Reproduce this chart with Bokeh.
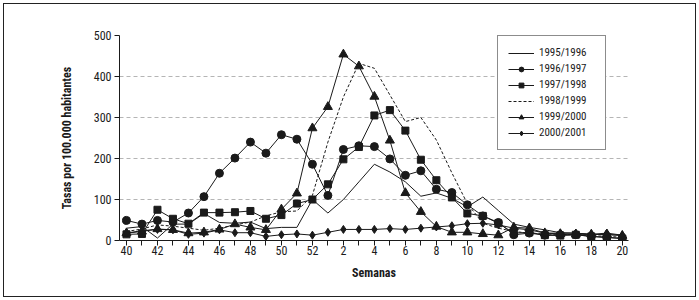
from bokeh.plotting import figure
from bokeh.models import Range1d, FixedTicker, Legend, LegendItem
from bokeh.embed import file_html
from bokeh.resources import INLINE

weeks = [40, 41, 42, 43, 44, 45, 46, 47, 48, 49, 50, 51, 52,
         1, 2, 3, 4, 5, 6, 7, 8, 9, 10, 11, 12, 13, 14, 15, 16, 17, 18, 19, 20]

s9596 = [30, 34, 6, 40, 40, 66, 44, 42, 45, 29, 32, 32, 100, 67, 100, 143, 186, 167, 143, 108,
         116, 103, 82, 106, 73, 40, 32, 26, 19, 18, 15, 14, 13]
s9697 = [49, 40, 49, 45, 67, 107, 164, 201, 240, 213, 258, 247, 186, 110, 222, 231, 229, 199, 159, 170,
         125, 117, 87, 60, 44, 14, 18, 13, 14, 14, 10, 7, 5]
s9798 = [15, 16, 75, 53, 41, 68, 68, 69, 72, 53, 62, 90, 100, 137, 198, 228, 305, 318, 268, 197,
         147, 105, 66, 60, 42, 18, 20, 13, 12, 14, 10, 8, 5]
s9899 = [22, 28, 38, 35, 30, 25, 30, 38, 45, 60, 70, 72, 110, 240, 350, 432, 420, 355, 290, 300,
         245, 165, 90, 42, 30, 22, 18, 16, 15, 14, 12, 10, 8]
s9900 = [18, 22, 28, 26, 18, 20, 27, 40, 32, 26, 76, 115, 274, 326, 454, 425, 351, 244, 116, 70,
         34, 20, 20, 16, 13, 32, 30, 18, 16, 15, 15, 15, 12]
s0001 = [18, 24, 27, 26, 15, 18, 26, 19, 19, 10, 14, 16, 13, 20, 27, 27, 27, 29, 27, 30,
         33, 36, 41, 42, 38, 30, 26, 18, 18, 18, 15, 18, 13]

series_names = ["1995/1996", "1996/1997", "1997/1998", "1998/1999", "1999/2000", "2000/2001"]
y_ticks = [0, 100, 200, 300, 400, 500]

FONT = "Roboto Condensed"
INK = "#1a1a1a"

xs = list(range(len(weeks)))

p = figure(width=699, height=300, output_backend="svg", toolbar_location=None,
           x_range=Range1d(-0.45, 32.4), y_range=Range1d(0, 500),
           min_border_left=119, min_border_right=71, min_border_top=35, min_border_bottom=60)
p.styles = {"outline": "1px solid #222", "outline-offset": "-4px"}
p.outline_line_color = None
p.background_fill_color = "white"
p.border_fill_color = None

p.xgrid.grid_line_color = None
p.ygrid.grid_line_color = "#b5b5b5"
p.ygrid.grid_line_dash = "4 3"
p.ygrid.grid_line_width = 1

p.xaxis.ticker = FixedTicker(ticks=xs)
p.xaxis.major_label_overrides = {i: (str(w) if i % 2 == 0 else "") for i, w in enumerate(weeks)}
p.yaxis.ticker = FixedTicker(ticks=y_ticks)

for ax in (p.xaxis, p.yaxis):
    ax.axis_line_color = INK
    ax.axis_line_width = 1
    ax.major_tick_line_color = INK
    ax.major_tick_in = 0
    ax.major_tick_out = 5
    ax.minor_tick_line_color = None
    ax.major_label_text_font = FONT
    ax.major_label_text_font_size = "12px"
    ax.major_label_text_color = INK
    ax.axis_label_text_font = FONT
    ax.axis_label_text_font_size = "12px"
    ax.axis_label_text_font_style = "bold"
    ax.axis_label_text_color = INK

p.xaxis.axis_label = "Semanas"
p.xaxis.major_label_standoff = 0
p.xaxis.axis_label_standoff = 8
p.yaxis.axis_label = "Tasas por 100.000 habitantes"
p.yaxis.major_label_standoff = 3
p.yaxis.axis_label_standoff = 17

items = []
r = p.line(xs, s9596, line_color=INK, line_width=1)
items.append(LegendItem(label=series_names[0], renderers=[r]))

r1 = p.line(xs, s9697, line_color=INK, line_width=1)
m1 = p.scatter(xs, s9697, marker="circle", size=8, fill_color=INK, line_color=INK)
items.append(LegendItem(label=series_names[1], renderers=[r1, m1]))

r2 = p.line(xs, s9798, line_color=INK, line_width=1)
m2 = p.scatter(xs, s9798, marker="square", size=7, fill_color=INK, line_color=INK)
items.append(LegendItem(label=series_names[2], renderers=[r2, m2]))

r3 = p.line(xs, s9899, line_color=INK, line_width=1, line_dash="3 2")
items.append(LegendItem(label=series_names[3], renderers=[r3]))

r4 = p.line(xs, s9900, line_color=INK, line_width=1)
m4 = p.scatter(xs, s9900, marker="triangle", size=9, fill_color=INK, line_color=INK)
items.append(LegendItem(label=series_names[4], renderers=[r4, m4]))

r5 = p.line(xs, s0001, line_color=INK, line_width=1)
m5 = p.scatter(xs, s0001, marker="diamond", size=8, fill_color=INK, line_color=INK)
items.append(LegendItem(label=series_names[5], renderers=[r5, m5]))

legend = Legend(items=items, location=(378, 90), margin=0, padding=10,
                glyph_width=26, glyph_height=12, label_height=12, label_width=56,
                spacing=3, label_standoff=5,
                label_text_font=FONT, label_text_font_size="11px", label_text_color=INK,
                border_line_color=INK, border_line_width=1,
                background_fill_color="white", background_fill_alpha=1.0)
p.add_layout(legend)

open("out.html", "w").write(file_html(p, INLINE))
